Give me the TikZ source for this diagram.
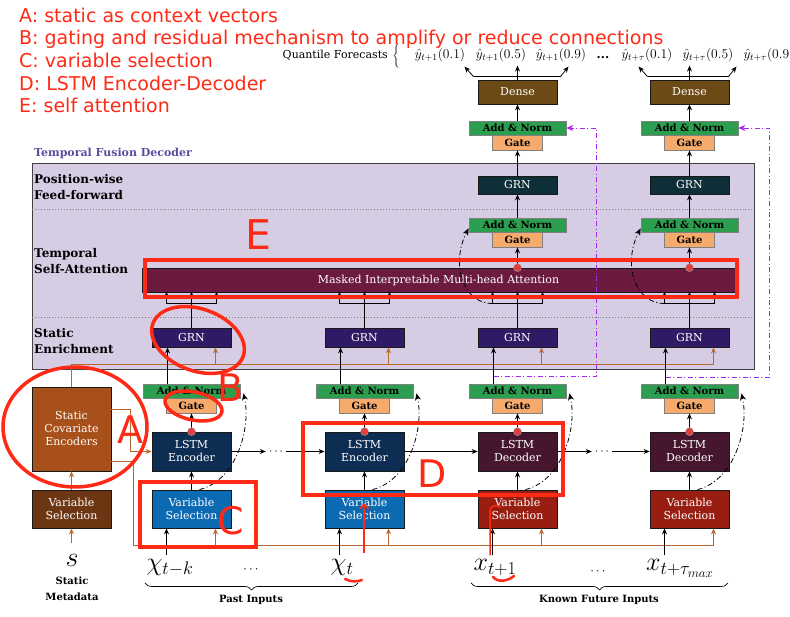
\documentclass[tikz,border=0pt]{standalone}
\usepackage{fix-cm}
\usepackage[no-math]{fontspec}
\setmainfont{DejaVu Serif}
\newfontfamily\annfont{DejaVu Sans}
\usetikzlibrary{arrows.meta,decorations.pathreplacing}

\definecolor{decbg}{RGB}{214,205,228}
\definecolor{attn}{RGB}{108,26,64}
\definecolor{grnenr}{RGB}{48,26,102}
\definecolor{grnff}{RGB}{14,46,56}
\definecolor{densec}{RGB}{108,74,22}
\definecolor{addgreen}{RGB}{44,158,80}
\definecolor{gateorange}{RGB}{246,170,108}
\definecolor{lstmenc}{RGB}{14,45,82}
\definecolor{lstmdec}{RGB}{70,22,46}
\definecolor{vsblue}{RGB}{12,106,178}
\definecolor{vsred}{RGB}{152,30,18}
\definecolor{vsstatic}{RGB}{108,54,18}
\definecolor{scecol}{RGB}{168,80,26}
\definecolor{copper}{RGB}{182,104,50}
\definecolor{skipviolet}{RGB}{162,40,240}
\definecolor{annred}{RGB}{255,42,22}
\definecolor{tfdpurple}{RGB}{92,76,160}
\definecolor{dotred}{RGB}{222,62,62}

\begin{document}
\begin{tikzpicture}[x=1pt,y=1pt,
  every node/.style={inner sep=0pt},
  arr/.style={line width=0.8pt,-{Stealth[length=6pt,width=5pt]}},
  sarr/.style={line width=0.5pt,-{Stealth[length=4pt,width=3pt]}},
  cu/.style={draw=copper,line width=0.8pt},
  cuarr/.style={cu,-{Stealth[length=6pt,width=5pt]}},
  dd/.style={line width=0.8pt,dash pattern=on 5pt off 2.5pt on 1pt off 2.5pt,-{Stealth[length=7pt,width=6pt]}},
  vdd/.style={dd,draw=skipviolet},
  box/.style={draw=black!90,line width=0.8pt,text=white,align=center,minimum width=79pt,font=\fontsize{11}{13}\selectfont},
  an/.style={draw=black!50,line width=0.8pt,fill=addgreen,minimum width=97pt,minimum height=14pt,font=\bfseries\fontsize{10}{11}\selectfont},
  gate/.style={an,fill=gateorange,minimum width=50pt,minimum height=15pt},
  rdot/.style={circle,fill=dotred,draw=black!35,line width=0.4pt,minimum size=8pt},
  lbl/.style={anchor=west,align=left,font=\bfseries\fontsize{12}{15.5}\selectfont},
  qlab/.style={font=\fontsize{13.5}{13.5}\selectfont},
  inlab/.style={anchor=base,font=\fontsize{26}{26}\selectfont},
  note/.style={anchor=base west,text=annred,font=\annfont\fontsize{19}{22}\selectfont},
  ann/.style={draw=annred,line width=3.5pt},
  annlet/.style={text=annred,font=\annfont\fontsize{38}{38}\selectfont}]
  \useasboundingbox (0,0) rectangle (790,617);

  % decoder frame
  \draw[fill=decbg,draw=black!75,line width=0.9pt] (32,248) rectangle (754,454);
  \draw[gray,dotted,line width=0.9pt] (32,408) -- (754,408);
  \draw[gray,dotted,line width=0.9pt] (32,300) -- (754,300);
  \node[anchor=west,text=tfdpurple,font=\bfseries\fontsize{11}{13}\selectfont] (tfd) at (34,464) {Temporal Fusion Decoder};
  \node[lbl] (lff) at (34,430) {Position-wise\\Feed-forward};
  \node[lbl] (lsa) at (34,356) {Temporal\\Self-Attention};
  \node[lbl] (lse) at (34,276) {Static\\Enrichment};

  % notes
  \node[note] (na) at (19,594) {A: static as context vectors};
  \node[note] (nb) at (19,572) {B: gating and residual mechanism to amplify or reduce connections};
  \node[note] (nc) at (19,549) {C: variable selection};
  \node[note] (nd) at (19,526) {D: LSTM Encoder-Decoder};
  \node[note] (ne) at (19,504) {E: self attention};

  % static side
  \node[box,fill=vsstatic,minimum height=38pt] (svs) at (71.5,108) {Variable\\Selection};
  \node[box,fill=scecol,minimum height=84pt] (sce) at (71.5,188) {Static\\Covariate\\Encoders};
  \node[inlab,font=\fontsize{28}{28}\selectfont] (s) at (72,50) {$s$};
  \node[align=center,font=\bfseries\fontsize{10}{16}\selectfont] (smeta) at (72,28) {Static\\Metadata};

  % variable selection, LSTM, gate
  \node[box,fill=vsblue,minimum height=38pt] (vs1) at (191.5,108) {Variable\\Selection};
  \node[box,fill=vsblue,minimum height=38pt] (vs2) at (364.5,108) {Variable\\Selection};
  \node[box,fill=vsred,minimum height=38pt] (vs3) at (517.5,108) {Variable\\Selection};
  \node[box,fill=vsred,minimum height=38pt] (vs4) at (689.5,108) {Variable\\Selection};
  \node[box,fill=lstmenc,minimum height=39pt] (ls1) at (191.5,165.5) {LSTM\\Encoder};
  \node[box,fill=lstmenc,minimum height=39pt] (ls2) at (364.5,165.5) {LSTM\\Encoder};
  \node[box,fill=lstmdec,minimum height=39pt] (ls3) at (517.5,165.5) {LSTM\\Decoder};
  \node[box,fill=lstmdec,minimum height=39pt] (ls4) at (689.5,165.5) {LSTM\\Decoder};
  \node[gate] (gt1) at (191.5,211.5) {Gate};
  \node[gate] (gt2) at (364.5,211.5) {Gate};
  \node[gate] (gt3) at (517.5,211.5) {Gate};
  \node[gate] (gt4) at (689.5,211.5) {Gate};
  \node[an] (an1) at (191.5,226) {Add \& Norm};
  \node[an] (an2) at (364.5,226) {Add \& Norm};
  \node[an] (an3) at (517.5,226) {Add \& Norm};
  \node[an] (an4) at (689.5,226) {Add \& Norm};

  % static enrichment
  \node[box,fill=grnenr,minimum height=19pt] (ge1) at (191.5,279.5) {GRN};
  \node[box,fill=grnenr,minimum height=19pt] (ge2) at (364.5,279.5) {GRN};
  \node[box,fill=grnenr,minimum height=19pt] (ge3) at (517.5,279.5) {GRN};
  \node[box,fill=grnenr,minimum height=19pt] (ge4) at (689.5,279.5) {GRN};

  % attention and feed-forward
  \node[box,fill=attn,minimum width=593pt,minimum height=24pt,font=\fontsize{11}{12}\selectfont] (att) at (438.5,337) {Masked Interpretable Multi-head Attention};
  \node[gate] (ga3) at (517.5,377.5) {Gate};
  \node[gate] (ga4) at (689.5,377.5) {Gate};
  \node[an] (aa3) at (517.5,392) {Add \& Norm};
  \node[an] (aa4) at (689.5,392) {Add \& Norm};
  \node[box,fill=grnff,minimum height=18pt] (gf3) at (517.5,432) {GRN};
  \node[box,fill=grnff,minimum height=18pt] (gf4) at (689.5,432) {GRN};
  \node[gate] (go3) at (517.5,474.5) {Gate};
  \node[gate] (go4) at (689.5,474.5) {Gate};
  \node[an] (ao3) at (517.5,489) {Add \& Norm};
  \node[an] (ao4) at (689.5,489) {Add \& Norm};
  \node[box,fill=densec,minimum height=24pt] (dn3) at (517.5,525) {Dense};
  \node[box,fill=densec,minimum height=24pt] (dn4) at (689.5,525) {Dense};

  % quantile outputs
  \node[anchor=east,font=\fontsize{11}{12}\selectfont] (qf) at (388,562) {Quantile Forecasts};
  \node[font=\fontsize{11}{12}\selectfont] (qbr) at (396,561) {$\bigg\{$};
  \node[qlab] (q31) at (440,562) {$\hat{y}_{t+1}(0.1)$};
  \node[qlab] (q35) at (501,562) {$\hat{y}_{t+1}(0.5)$};
  \node[qlab] (q39) at (561,562) {$\hat{y}_{t+1}(0.9)$};
  \node[font=\bfseries\fontsize{12}{12}\selectfont] (qdots) at (603,559) {...};
  \node[qlab] (q41) at (647,562) {$\hat{y}_{t+\tau}(0.1)$};
  \node[qlab] (q45) at (708,562) {$\hat{y}_{t+\tau}(0.5)$};
  \node[qlab] (q49) at (769,562) {$\hat{y}_{t+\tau}(0.9)$};

  % inputs
  \node[inlab] (xin1) at (170,46) {$\chi_{t-k}$};
  \node[inlab] (xin2) at (342,46) {$\chi_t$};
  \node[inlab] (xin3) at (495,46) {$x_{t+1}$};
  \node[inlab] (xin4) at (680,46) {$x_{t+\tau_{max}}$};
  \node[font=\fontsize{13}{13}\selectfont] (pd) at (251,47) {$\cdots$};
  \node[font=\fontsize{13}{13}\selectfont] (fd) at (598,45) {$\cdots$};
  \draw[decorate,decoration={brace,mirror,amplitude=7pt},line width=0.7pt] (145,34) -- (358,34);
  \draw[decorate,decoration={brace,mirror,amplitude=7pt},line width=0.7pt] (471,34) -- (728,34);
  \node[font=\bfseries\fontsize{10}{12}\selectfont] (past) at (251,17) {Past Inputs};
  \node[font=\bfseries\fontsize{10}{12}\selectfont] (future) at (599,17) {Known Future Inputs};

  % static context lines
  \draw[cuarr] ([yshift=-15pt]svs.south) -- (svs.south);
  \draw[cuarr] (svs) -- (sce);
  \draw[cuarr] ([yshift=20pt]sce.east) -- ++(19,0) |- (ls1.west);
  \draw[cu] ([yshift=-32pt]sce.east) -- ++(22,0) |- ([xshift=24pt,yshift=-17pt]vs4.south);
  \draw[cu] (sce.north) |- ([xshift=24pt,yshift=-17pt]ge4.south);

  % input arrows
  \draw[arr] ([xshift=-25pt,yshift=-27pt]vs1.south) -- ([xshift=-25pt]vs1.south);
  \draw[arr] ([xshift=-25pt,yshift=-27pt]vs2.south) -- ([xshift=-25pt]vs2.south);
  \draw[arr] ([xshift=-25pt,yshift=-27pt]vs3.south) -- ([xshift=-25pt]vs3.south);
  \draw[arr] ([xshift=-25pt,yshift=-27pt]vs4.south) -- ([xshift=-25pt]vs4.south);
  \draw[cuarr] ([xshift=24pt,yshift=-17pt]vs1.south) -- ([xshift=24pt]vs1.south);
  \draw[cuarr] ([xshift=24pt,yshift=-17pt]vs2.south) -- ([xshift=24pt]vs2.south);
  \draw[cuarr] ([xshift=24pt,yshift=-17pt]vs3.south) -- ([xshift=24pt]vs3.south);
  \draw[cuarr] ([xshift=24pt,yshift=-17pt]vs4.south) -- ([xshift=24pt]vs4.south);

  % selection -> LSTM -> gate
  \draw[arr] (vs1) -- (ls1);
  \draw[arr] (vs2) -- (ls2);
  \draw[arr] (vs3) -- (ls3);
  \draw[arr] (vs4) -- (ls4);
  \draw[arr] (ls1.north) -- (gt1);
  \draw[arr] (ls2.north) -- (gt2);
  \draw[arr] (ls3.north) -- (gt3);
  \draw[arr] (ls4.north) -- (gt4);
  \node[rdot] (rd1) at (ls1.north) {};
  \node[rdot] (rd2) at (ls2.north) {};
  \node[rdot] (rd3) at (ls3.north) {};
  \node[rdot] (rd4) at (ls4.north) {};

  % LSTM chain
  \node[font=\fontsize{12}{12}\selectfont,inner sep=3pt] (dt1) at (276,165.5) {$\cdots$};
  \node[font=\fontsize{12}{12}\selectfont,inner sep=3pt] (dt2) at (602,165.5) {$\cdots$};
  \draw[arr] (ls1) -- (dt1);
  \draw[arr] (dt1) -- (ls2);
  \draw[arr] (ls2) -- (ls3);
  \draw[arr] (ls3) -- (dt2);
  \draw[arr] (dt2) -- (ls4);

  % skip around LSTM
  \draw[dd] ([xshift=8pt]vs1.north) .. controls +(37,9) and +(8,-34) .. ([xshift=3pt,yshift=5pt]an1.south east);
  \draw[dd] ([xshift=8pt]vs2.north) .. controls +(37,9) and +(8,-34) .. ([xshift=3pt,yshift=5pt]an2.south east);
  \draw[dd] ([xshift=8pt]vs3.north) .. controls +(37,9) and +(8,-34) .. ([xshift=3pt,yshift=5pt]an3.south east);
  \draw[dd] ([xshift=8pt]vs4.north) .. controls +(37,9) and +(8,-34) .. ([xshift=3pt,yshift=5pt]an4.south east);

  % add & norm -> static enrichment
  \draw[arr] ([xshift=-24pt]an1.north) -- ([xshift=-24pt]ge1.south);
  \draw[arr] ([xshift=-24pt]an2.north) -- ([xshift=-24pt]ge2.south);
  \draw[arr] ([xshift=-24pt]an3.north) -- ([xshift=-24pt]ge3.south);
  \draw[arr] ([xshift=-24pt]an4.north) -- ([xshift=-24pt]ge4.south);
  \draw[cuarr] ([xshift=24pt,yshift=-17pt]ge1.south) -- ([xshift=24pt]ge1.south);
  \draw[cuarr] ([xshift=24pt,yshift=-17pt]ge2.south) -- ([xshift=24pt]ge2.south);
  \draw[cuarr] ([xshift=24pt,yshift=-17pt]ge3.south) -- ([xshift=24pt]ge3.south);
  \draw[cuarr] ([xshift=24pt,yshift=-17pt]ge4.south) -- ([xshift=24pt]ge4.south);

  % enrichment -> attention (q, k, v)
  \draw[line width=0.8pt] (ge1.north) -- ++(0,24) coordinate (br1);
  \draw[line width=0.8pt] (ge2.north) -- ++(0,24) coordinate (br2);
  \draw[line width=0.8pt] (ge3.north) -- ++(0,24) coordinate (br3);
  \draw[line width=0.8pt] (ge4.north) -- ++(0,24) coordinate (br4);
  \draw[line width=0.5pt] ([xshift=-25pt]br1) -- ([xshift=25pt]br1);
  \draw[line width=0.5pt] ([xshift=-25pt]br2) -- ([xshift=25pt]br2);
  \draw[line width=0.5pt] ([xshift=-25pt]br3) -- ([xshift=25pt]br3);
  \draw[line width=0.5pt] ([xshift=-25pt]br4) -- ([xshift=25pt]br4);
  \draw[sarr] ([xshift=-25pt]br1) -- ++(0,12); \draw[sarr] (br1) -- ++(0,12); \draw[sarr] ([xshift=25pt]br1) -- ++(0,12);
  \draw[sarr] ([xshift=-25pt]br2) -- ++(0,12); \draw[sarr] (br2) -- ++(0,12); \draw[sarr] ([xshift=25pt]br2) -- ++(0,12);
  \draw[sarr] ([xshift=-25pt]br3) -- ++(0,12); \draw[sarr] (br3) -- ++(0,12); \draw[sarr] ([xshift=25pt]br3) -- ++(0,12);
  \draw[sarr] ([xshift=-25pt]br4) -- ++(0,12); \draw[sarr] (br4) -- ++(0,12); \draw[sarr] ([xshift=25pt]br4) -- ++(0,12);

  % attention -> gate -> GRN -> gate -> dense
  \draw[arr] (att.north -| ga3) -- (ga3);
  \draw[arr] (att.north -| ga4) -- (ga4);
  \node[rdot] (ra3) at (att.north -| ga3) {};
  \node[rdot] (ra4) at (att.north -| ga4) {};
  \draw[dd] ([xshift=-25pt]br3) .. controls +(-30,0) and +(-18,-35) .. ([yshift=4pt]aa3.south west);
  \draw[dd] ([xshift=-25pt]br4) .. controls +(-30,0) and +(-18,-35) .. ([yshift=4pt]aa4.south west);
  \draw[arr] (aa3) -- (gf3);
  \draw[arr] (aa4) -- (gf4);
  \draw[arr] (gf3) -- (go3);
  \draw[arr] (gf4) -- (go4);
  \draw[arr] (ao3) -- (dn3);
  \draw[arr] (ao4) -- (dn4);

  % skip past the decoder
  \draw[vdd] ([xshift=-24pt,yshift=7pt]an3.north) -| ([xshift=30pt]ao3.east) -- (ao3.east);
  \draw[vdd] ([xshift=-24pt,yshift=6pt]an4.north) -| ([xshift=31pt]ao4.east) -- (ao4.east);

  % dense -> quantiles
  \draw[arr] (dn3.north) -- ++(0,14);
  \draw[line width=0.8pt] ([xshift=-44pt,yshift=3pt]dn3.north) -- ([xshift=43pt,yshift=3pt]dn3.north);
  \draw[arr] ([xshift=-44pt,yshift=3pt]dn3.north) -- ++(-9,10);
  \draw[arr] ([xshift=43pt,yshift=3pt]dn3.north) -- ++(8,10);
  \draw[arr] (dn4.north) -- ++(0,14);
  \draw[line width=0.8pt] ([xshift=-42pt,yshift=3pt]dn4.north) -- ([xshift=39pt,yshift=3pt]dn4.north);
  \draw[arr] ([xshift=-42pt,yshift=3pt]dn4.north) -- ++(-9,10);
  \draw[arr] ([xshift=39pt,yshift=3pt]dn4.north) -- ++(8,10);

  % red marks
  \draw[ann] (75,190) ellipse[x radius=72,y radius=60];
  \draw[ann,rotate around={-20:(198,277)}] (198,277) ellipse[x radius=48,y radius=31];
  \draw[ann,rotate around={-12:(193.5,211)}] (193.5,211) ellipse[x radius=29,y radius=14];
  \draw[ann] (140,70) rectangle (256,135);
  \draw[ann] (303,122) rectangle (563,194);
  \draw[ann] (145,320) rectangle (737,357);
  \node[annlet] (la) at (130,187) {A};
  \node[annlet] (lb) at (231,229) {B};
  \node[annlet] (lc) at (231,96) {C};
  \node[annlet] (ld) at (432,143) {D};
  \node[annlet,font=\annfont\fontsize{41}{41}\selectfont] (le) at (258,382) {E};
  \draw[annred,line width=1.5pt,-{Straight Barb[length=5pt,width=9pt]}] (364,64) -- (364,114);
  \draw[annred,line width=2.5pt,line cap=round] (345,38) .. controls (351,35) and (357,35) .. (362,37);
  \draw[annred,line width=1.5pt,line cap=round] (490,62) -- (490,106) .. controls (490,111) and (495,113) .. (501,110);
  \draw[annred,line width=2.5pt,line cap=round] (493,40) .. controls (498,34) and (508,36) .. (514,41);
\end{tikzpicture}
\end{document}
